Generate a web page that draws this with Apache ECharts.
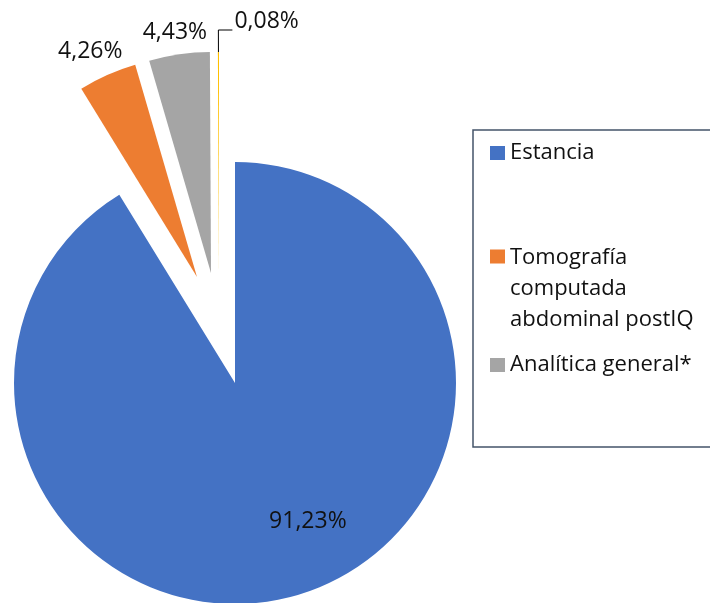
<!DOCTYPE html>
<html>
<head>
<meta charset="utf-8">
<script src="https://cdn.jsdelivr.net/npm/echarts@6/dist/echarts.min.js"></script>
<style>
  html, body { margin: 0; padding: 0; background: #fff; }
  #chart { width: 710px; height: 603px; }
</style>
</head>
<body>
<div id="chart"></div>
<script>
// datos del gráfico
var categories = ['Estancia', 'Tomografía computada abdominal postIQ', 'Analítica general*', 'Otros'];
var values = [91.23, 4.26, 4.43, 0.08];
var legendItems = ['Estancia', 'Tomografía computada abdominal postIQ', 'Analítica general*'];

var colors = ['#4472C4', '#ED7D31', '#A5A5A5', '#FFC000'];
// centro de cada porción (porciones separadas)
var centers = [[235, 383], [197, 277], [211, 273], [219, 273]];
var labelShift = [[42, 29], [43, -3], [50, 0], [0, 0]];
var FONT = 'Open Sans';

function fmt (v) {
  return v.toFixed(2).replace('.', ',') + '%';
}

function makeSeries (k) {
  return {
    type: 'pie',
    center: centers[k],
    radius: 221,
    startAngle: 90,
    clockwise: true,
    avoidLabelOverlap: false,
    silent: true,
    emphasis: { disabled: true },
    labelLine: {
      show: k === 3,
      length: 22,
      length2: 14,
      lineStyle: { color: '#000', width: 1 }
    },
    labelLayout: function (p) {
      if (p.dataIndex !== k) return {};
      if (k === 3 && p.labelLinePoints) {
        // la línea guía va hacia la derecha
        var pts = p.labelLinePoints;
        var endX = 2 * pts[1][0] - pts[2][0];
        return {
          labelLinePoints: [pts[0], pts[1], [endX, pts[2][1]]],
          dx: endX + 2 - p.labelRect.x,
          dy: -9
        };
      }
      return { dx: labelShift[k][0], dy: labelShift[k][1] };
    },
    data: values.map(function (v, j) {
      return {
        name: categories[j],
        value: v,
        itemStyle: { color: j === k ? colors[j] : 'rgba(0,0,0,0)' },
        label: {
          show: j === k,
          position: k === 0 ? 'inside' : 'outside',
          formatter: function (p) { return fmt(p.value); },
          color: '#111',
          fontSize: 23,
          fontFamily: FONT
        }
      };
    })
  };
}

function makeLegend (k, top, itemHeight, icon, lineHeight) {
  return {
    orient: 'vertical',
    left: 490,
    top: top,
    padding: 0,
    itemWidth: 15,
    itemHeight: itemHeight,
    icon: icon,
    selectedMode: false,
    data: [{ name: legendItems[k], itemStyle: { color: colors[k] } }],
    formatter: function (name) {
      return name === categories[1] ? 'Tomografía\ncomputada\nabdominal postIQ' : name;
    },
    textStyle: { fontSize: 22, fontFamily: FONT, color: '#111', lineHeight: lineHeight }
  };
}

var chart = echarts.init(document.getElementById('chart'));
chart.setOption({
  animation: false,
  backgroundColor: '#fff',
  legend: [
    makeLegend(0, 142, 14, 'rect', 14),
    makeLegend(1, 242, 78, 'path://M0,0h15v14h-15z M0,77.9h0.1v0.1h-0.1z', 31),
    makeLegend(2, 354, 14, 'rect', 14)
  ],
  graphic: [{
    type: 'rect',
    shape: { x: 473, y: 130, width: 260, height: 317 },
    style: { fill: 'none', stroke: '#44546A', lineWidth: 1.5 }
  }],
  series: [0, 1, 2, 3].map(makeSeries)
});
</script>
</body>
</html>
